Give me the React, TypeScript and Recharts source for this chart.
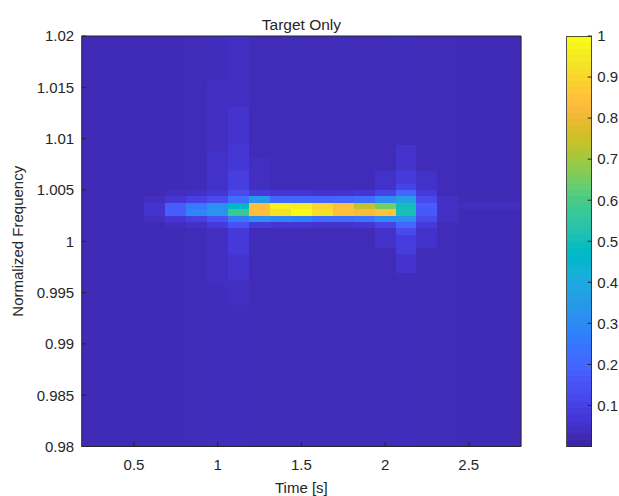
import React from 'react';
import { ComposedChart, XAxis, YAxis, ReferenceArea, Scatter } from 'recharts';

// spectrogram bins: column centres in seconds, rows counted up from 0.98
const times = [0.25, 0.375, 0.5, 0.625, 0.75, 0.875, 1, 1.125, 1.25, 1.375, 1.5, 1.625, 1.75, 1.875, 2, 2.125, 2.25, 2.375, 2.5, 2.625, 2.75];
const timeStep = 0.125;
const freqMin = 0.98;
const freqStep = 0.000625;

// per column: runs of [firstRow, lastRow, level]
const col0 = [[0, 63, 0.02]];
const col1 = [[0, 63, 0.02]];
const col2 = [[0, 63, 0.02]];
const col3 = [[0, 34, 0.02], [35, 35, 0.035], [36, 37, 0.05], [38, 38, 0.035], [39, 63, 0.02]];
const col4 = [[0, 33, 0.02], [34, 34, 0.03], [35, 35, 0.06], [36, 37, 0.17], [38, 38, 0.06], [39, 39, 0.03], [40, 63, 0.02]];
const col5 = [[0, 33, 0.022], [34, 34, 0.04], [35, 35, 0.09], [36, 36, 0.29], [37, 37, 0.25], [38, 38, 0.09], [39, 39, 0.04], [40, 63, 0.022]];
const col6 = [[0, 24, 0.025], [25, 33, 0.035], [34, 34, 0.07], [35, 35, 0.14], [36, 36, 0.33], [37, 37, 0.31], [38, 38, 0.12], [39, 39, 0.06], [40, 45, 0.045], [46, 56, 0.035], [57, 63, 0.028]];
const col7 = [[0, 21, 0.025], [22, 25, 0.035], [26, 29, 0.05], [30, 33, 0.07], [34, 34, 0.14], [35, 35, 0.25], [36, 36, 0.58], [37, 37, 0.46], [38, 38, 0.22], [39, 39, 0.12], [40, 42, 0.085], [43, 46, 0.065], [47, 52, 0.05], [53, 63, 0.035]];
const col8 = [[0, 33, 0.022], [34, 34, 0.07], [35, 35, 0.31], [36, 36, 0.84], [37, 37, 0.84], [38, 38, 0.34], [39, 39, 0.07], [40, 44, 0.035], [45, 63, 0.022]];
const col9 = [[0, 33, 0.022], [34, 34, 0.06], [35, 35, 0.28], [36, 36, 0.93], [37, 37, 0.97], [38, 38, 0.2], [39, 39, 0.06], [40, 63, 0.022]];
const col10 = [[0, 33, 0.022], [34, 34, 0.06], [35, 35, 0.27], [36, 36, 1], [37, 37, 0.96], [38, 38, 0.2], [39, 39, 0.06], [40, 63, 0.022]];
const col11 = [[0, 33, 0.022], [34, 34, 0.05], [35, 35, 0.22], [36, 36, 0.93], [37, 37, 0.9], [38, 38, 0.19], [39, 39, 0.05], [40, 63, 0.022]];
const col12 = [[0, 33, 0.022], [34, 34, 0.05], [35, 35, 0.22], [36, 36, 0.85], [37, 37, 0.84], [38, 38, 0.2], [39, 39, 0.05], [40, 63, 0.022]];
const col13 = [[0, 33, 0.022], [34, 34, 0.06], [35, 35, 0.24], [36, 36, 0.83], [37, 37, 0.74], [38, 38, 0.22], [39, 39, 0.06], [40, 63, 0.022]];
const col14 = [[0, 30, 0.022], [31, 33, 0.045], [34, 34, 0.1], [35, 35, 0.3], [36, 36, 0.86], [37, 37, 0.65], [38, 38, 0.3], [39, 39, 0.1], [40, 42, 0.045], [43, 63, 0.022]];
const col15 = [[0, 26, 0.025], [27, 29, 0.05], [30, 32, 0.08], [33, 33, 0.12], [34, 34, 0.2], [35, 35, 0.32], [36, 36, 0.51], [37, 37, 0.5], [38, 38, 0.36], [39, 39, 0.2], [40, 40, 0.1], [41, 42, 0.075], [43, 46, 0.05], [47, 63, 0.025]];
const col16 = [[0, 30, 0.022], [31, 33, 0.045], [34, 34, 0.07], [35, 35, 0.12], [36, 36, 0.16], [37, 37, 0.17], [38, 38, 0.12], [39, 39, 0.07], [40, 42, 0.045], [43, 63, 0.022]];
const col17 = [[0, 34, 0.022], [35, 38, 0.04], [39, 63, 0.022]];
const col18 = [[0, 36, 0.02], [37, 37, 0.035], [38, 63, 0.02]];
const col19 = [[0, 36, 0.02], [37, 37, 0.035], [38, 63, 0.02]];
const col20 = [[0, 36, 0.02], [37, 37, 0.032], [38, 63, 0.02]];

const columns = [col0, col1, col2, col3, col4, col5, col6, col7, col8, col9, col10, col11, col12, col13, col14, col15, col16, col17, col18, col19, col20];

const timeTicks = [0.5, 1, 1.5, 2, 2.5];
const freqTicks = [0.98, 0.985, 0.99, 0.995, 1, 1.005, 1.01, 1.015, 1.02];
const levelTicks = [0.1, 0.2, 0.3, 0.4, 0.5, 0.6, 0.7, 0.8, 0.9, 1];

// parula, 64 entries
const PARULA = [
  [0.2422, 0.1504, 0.6603], [0.2504, 0.165, 0.7076], [0.2578, 0.1818, 0.7511], [0.2647, 0.1978, 0.7952],
  [0.2706, 0.2147, 0.8364], [0.2751, 0.2342, 0.871], [0.2783, 0.2559, 0.8991], [0.2803, 0.2782, 0.9221],
  [0.2813, 0.3006, 0.9414], [0.281, 0.3228, 0.9579], [0.2795, 0.3447, 0.9717], [0.276, 0.3667, 0.9829],
  [0.2699, 0.3892, 0.9906], [0.2602, 0.4123, 0.9952], [0.244, 0.4358, 0.9988], [0.2206, 0.4603, 0.9973],
  [0.1963, 0.4847, 0.9892], [0.1834, 0.5074, 0.9798], [0.1786, 0.5289, 0.9682], [0.1764, 0.5499, 0.952],
  [0.1687, 0.5703, 0.9359], [0.154, 0.5902, 0.9218], [0.146, 0.6091, 0.9079], [0.138, 0.6276, 0.8973],
  [0.1248, 0.6459, 0.8883], [0.1113, 0.6635, 0.8763], [0.0952, 0.6798, 0.8598], [0.0689, 0.6948, 0.8394],
  [0.0297, 0.7082, 0.8163], [0.0036, 0.7203, 0.7917], [0.0067, 0.7312, 0.766], [0.0433, 0.7411, 0.7394],
  [0.0964, 0.75, 0.712], [0.1408, 0.7584, 0.6842], [0.1717, 0.767, 0.6554], [0.1938, 0.7758, 0.6251],
  [0.2161, 0.7843, 0.5923], [0.247, 0.7918, 0.5567], [0.2906, 0.7973, 0.5188], [0.3406, 0.8008, 0.4789],
  [0.3909, 0.8029, 0.4354], [0.4456, 0.8024, 0.3909], [0.5044, 0.7993, 0.348], [0.5616, 0.7942, 0.3045],
  [0.6174, 0.7876, 0.2612], [0.672, 0.7793, 0.2227], [0.7242, 0.7698, 0.191], [0.7738, 0.7598, 0.1646],
  [0.8203, 0.7498, 0.1535], [0.8634, 0.7406, 0.1596], [0.9035, 0.733, 0.1774], [0.9393, 0.7288, 0.21],
  [0.9728, 0.7298, 0.2394], [0.9956, 0.7434, 0.2371], [0.997, 0.7659, 0.2199], [0.9952, 0.7893, 0.2028],
  [0.9892, 0.8136, 0.1885], [0.9786, 0.8386, 0.1766], [0.9676, 0.8639, 0.1643], [0.961, 0.889, 0.1537],
  [0.9597, 0.9135, 0.1423], [0.9628, 0.9373, 0.1265], [0.9691, 0.9606, 0.1064], [0.9769, 0.9839, 0.0805],
];

function parula(v: number): string {
  const p = Math.max(0, Math.min(1, v)) * (PARULA.length - 1);
  const i = Math.min(PARULA.length - 2, Math.floor(p));
  const f = p - i;
  const c = PARULA[i].map((a, k) => Math.round(255 * (a + (PARULA[i + 1][k] - a) * f)));
  return `rgb(${c[0]},${c[1]},${c[2]})`;
}

const W = 619;
const H = 496;
const plot = { left: 81.7, right: 521.1, top: 36, bottom: 446.5 };
const bar = { left: 566.7, right: 591.7 };
const ink = '#262626';
const font = '"Liberation Sans", Arial, Helvetica, sans-serif';
const tickStyle = { fill: ink, fontSize: 15, fontFamily: font };

const cells = times.flatMap((t, i) =>
  columns[i].map(([r0, r1, v]) => ({
    t,
    lo: freqMin + r0 * freqStep,
    hi: freqMin + (r1 + 1) * freqStep,
    f: freqMin + ((r0 + r1 + 1) / 2) * freqStep,
    v,
  })),
);

const barStrips = PARULA.map((_, i) => ({
  x: 0.5,
  lo: i / PARULA.length,
  hi: (i + 1) / PARULA.length,
  y: (i + 0.5) / PARULA.length,
  v: i / (PARULA.length - 1),
}));

const noMark = () => <g />;

const App: React.FC = () => {
  return (
    <div style={{ position: 'absolute', left: 0, top: 0, width: W, height: H, background: '#fff' }}>
      <style>{'.recharts-reference-area-rect { shape-rendering: crispEdges; }'}</style>

      <div style={{ position: 'absolute', left: 0, top: 0 }}>
        <ComposedChart
          width={W}
          height={H}
          data={cells}
          margin={{ top: plot.top - 1, right: W - plot.right - 1, bottom: 0, left: 0 }}
        >
          <XAxis
            dataKey="t"
            type="number"
            domain={[0.1875, 2.8125]}
            ticks={timeTicks}
            allowDataOverflow
            height={H - plot.bottom}
            tickSize={-4.5}
            tickMargin={17.5}
            tick={tickStyle}
            stroke={ink}
            interval={0}
          />
          <XAxis
            xAxisId="top"
            dataKey="t"
            orientation="top"
            type="number"
            domain={[0.1875, 2.8125]}
            ticks={timeTicks}
            allowDataOverflow
            height={1}
            tickSize={-4.5}
            tick={false}
            stroke={ink}
            interval={0}
          />
          <YAxis
            dataKey="f"
            type="number"
            domain={[0.98, 1.02]}
            ticks={freqTicks}
            allowDataOverflow
            width={plot.left}
            tickSize={-4.5}
            tickMargin={12}
            tick={tickStyle}
            stroke={ink}
            interval={0}
          />
          <YAxis
            yAxisId="right"
            dataKey="f"
            orientation="right"
            type="number"
            domain={[0.98, 1.02]}
            ticks={freqTicks}
            allowDataOverflow
            width={1}
            tickSize={-4.5}
            tick={false}
            stroke={ink}
            interval={0}
          />
          <Scatter dataKey="f" shape={noMark} isAnimationActive={false} />
          {cells.map((c, k) => (
            <ReferenceArea
              key={k}
              x1={c.t - timeStep / 2}
              x2={c.t + timeStep / 2}
              y1={c.lo}
              y2={c.hi}
              fill={parula(c.v)}
              fillOpacity={1}
              stroke="none"
              ifOverflow="visible"
            />
          ))}
        </ComposedChart>
      </div>

      <div style={{ position: 'absolute', left: 0, top: 0 }}>
        <ComposedChart
          width={W}
          height={H}
          data={barStrips}
          margin={{ top: plot.top, right: 0, bottom: H - plot.bottom, left: bar.left }}
        >
          <XAxis dataKey="x" type="number" domain={[0, 1]} hide />
          <YAxis
            dataKey="y"
            orientation="right"
            type="number"
            domain={[0, 1]}
            ticks={levelTicks}
            allowDataOverflow
            width={W - bar.right}
            axisLine={false}
            tickSize={-4}
            tickMargin={9.6}
            tick={tickStyle}
            stroke={ink}
            interval={0}
          />
          <Scatter dataKey="y" shape={noMark} isAnimationActive={false} />
          {barStrips.map((s, i) => (
            <ReferenceArea
              key={i}
              x1={0}
              x2={1}
              y1={s.lo}
              y2={s.hi}
              fill={parula(s.v)}
              fillOpacity={1}
              stroke="none"
              ifOverflow="visible"
            />
          ))}
          <ReferenceArea x1={0} x2={1} y1={0} y2={1} fill="none" stroke={ink} strokeWidth={0.8} ifOverflow="visible" />
        </ComposedChart>
      </div>

      <svg width={W} height={H} style={{ position: 'absolute', left: 0, top: 0, pointerEvents: 'none' }}>
        <text x={(plot.left + plot.right) / 2} y={29.5} textAnchor="middle" fontSize={15.5} fontFamily={font} fill={ink}>
          Target Only
        </text>
        <text x={(plot.left + plot.right) / 2} y={492.5} textAnchor="middle" fontSize={15} fontFamily={font} fill={ink}>
          Time [s]
        </text>
        <text
          x={23.3}
          y={(plot.top + plot.bottom) / 2}
          textAnchor="middle"
          fontSize={15}
          fontFamily={font}
          fill={ink}
          transform={`rotate(-90 23.3 ${(plot.top + plot.bottom) / 2})`}
        >
          Normalized Frequency
        </text>
      </svg>
    </div>
  );
};

export default App;
